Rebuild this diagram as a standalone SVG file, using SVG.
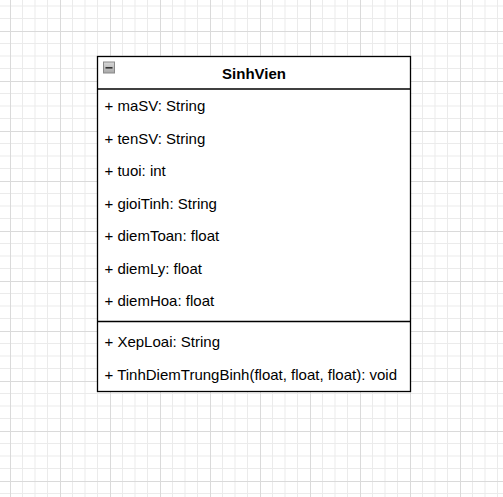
<svg xmlns="http://www.w3.org/2000/svg" width="503" height="497" viewBox="0 0 503 497">
<style>
.t{font-family:"Liberation Sans",Arial,sans-serif;font-size:15px;fill:#000}
.h{font-weight:bold;text-anchor:middle}
.minor{stroke:#ebebeb;stroke-width:1}
.major{stroke:#dadada;stroke-width:1}
.box{fill:#fff;stroke:#000;stroke-width:1.3}
</style>
<defs>
<pattern id="grid" patternUnits="userSpaceOnUse" x="10" y="31" width="50" height="50">
<path class="minor" d="M12.5 0V50M25 0V50M37.5 0V50M0 12.5H50M0 25H50M0 37.5H50"/>
<path class="major" d="M0.5 0V50M0 0.5H50"/>
</pattern>
<linearGradient id="ig" x1="0" y1="0" x2="0" y2="1">
<stop offset="0" stop-color="#d8d8d8"/>
<stop offset="1" stop-color="#a8a8a8"/>
</linearGradient>
</defs>
<rect width="503" height="497" fill="#fff"/>
<rect width="503" height="497" fill="url(#grid)"/>
<g id="SinhVien">
<rect class="box" x="97.5" y="56.5" width="313" height="335"/>
<line x1="97.5" y1="89" x2="410.5" y2="89" stroke="#000" stroke-width="1.3"/>
<line x1="97.5" y1="321.5" x2="410.5" y2="321.5" stroke="#000" stroke-width="1.3"/>
<rect x="103.5" y="62" width="11" height="11" fill="url(#ig)" stroke="#8a8a8a" stroke-width="1"/>
<rect x="105.5" y="67" width="7" height="1.6" fill="#333"/>
<text class="t h" x="254" y="78.5">SinhVien</text>
<text class="t" x="104.5" y="111">+ maSV: String</text>
<text class="t" x="104.5" y="143.5">+ tenSV: String</text>
<text class="t" x="104.5" y="176">+ tuoi: int</text>
<text class="t" x="104.5" y="208.5">+ gioiTinh: String</text>
<text class="t" x="104.5" y="241">+ diemToan: float</text>
<text class="t" x="104.5" y="273.5">+ diemLy: float</text>
<text class="t" x="104.5" y="306">+ diemHoa: float</text>
<text class="t" x="104.5" y="347">+ XepLoai: String</text>
<text class="t" x="104.5" y="379.5">+ TinhDiemTrungBinh(float, float, float): void</text>
</g>
<g id="connectors"/>
</svg>
